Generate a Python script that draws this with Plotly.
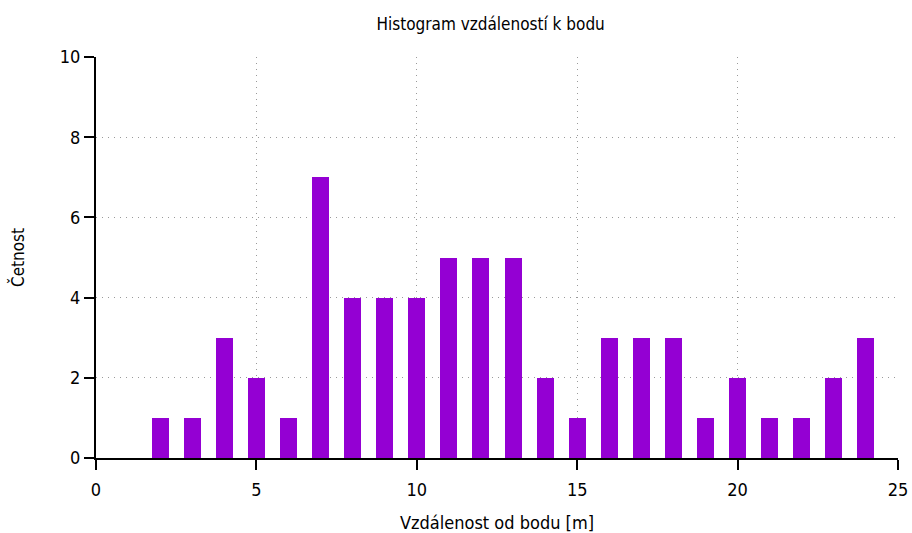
import plotly.graph_objects as go

# Distance bins [m] and their counts
distances = list(range(2, 25))
counts = [1, 1, 3, 2, 1, 7, 4, 4, 4, 5, 5, 5, 2, 1, 3, 3, 3, 1, 2, 1, 1, 2, 3]

x_ticks = [0, 5, 10, 15, 20, 25]
y_ticks = [0, 2, 4, 6, 8, 10]

FONT = "DejaVu Sans Condensed, Noto Sans, DejaVu Sans"

fig = go.Figure(
    go.Bar(
        x=distances,
        y=counts,
        width=0.53,
        marker=dict(color="#9400D3", line=dict(width=0)),
        showlegend=False,
    )
)

fig.update_layout(
    width=912,
    height=533,
    margin=dict(l=96, r=14, t=57, b=75),
    paper_bgcolor="white",
    plot_bgcolor="white",
    font=dict(family=FONT, size=18, color="#000000"),
    title=dict(
        text="Histogram vzdáleností k bodu",
        x=0.538, xanchor="center",
        y=0.955, yanchor="middle",
        font=dict(family=FONT, size=17),
    ),
    bargap=0,
)

axis_common = dict(
    automargin=False,
    showline=True,
    linecolor="black",
    linewidth=2,
    ticks="outside",
    tickcolor="black",
    tickwidth=2,
    ticklen=10,
    showgrid=True,
    gridcolor="#9a9a9a",
    griddash="1px,5px",
    gridwidth=1,
    zeroline=False,
    mirror=False,
    tickfont=dict(family=FONT, size=18),
)

fig.update_xaxes(
    range=[0, 25],
    tickvals=x_ticks,
    ticktext=[str(v) for v in x_ticks],
    ticklabelstandoff=4,
    title=dict(text="Vzdálenost od bodu [m]", standoff=29,
               font=dict(family=FONT, size=18)),
    **axis_common,
)
fig.update_yaxes(
    range=[0, 10],
    tickvals=y_ticks,
    ticktext=[str(v) for v in y_ticks],
    title=dict(text="Četnost", standoff=31,
               font=dict(family=FONT, size=17)),
    **axis_common,
)

fig.write_html("out.html")
